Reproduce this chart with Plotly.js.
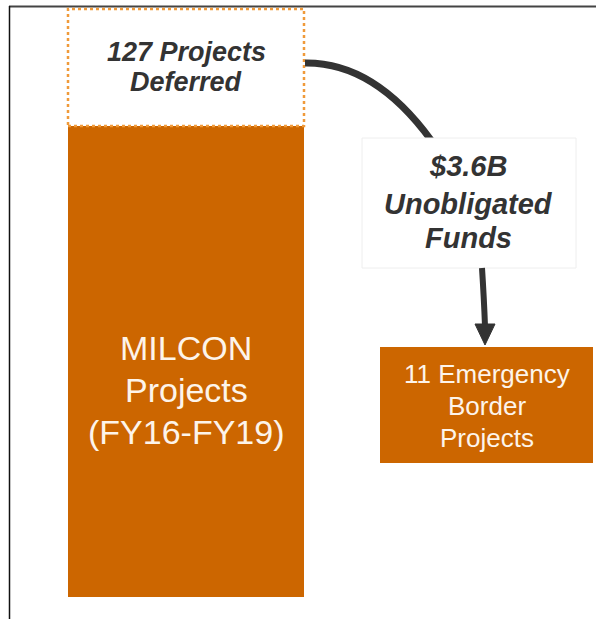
<!DOCTYPE html>
<html>
<head>
<meta charset="utf-8">
<script src="https://cdn.plot.ly/plotly-3.0.1.min.js"></script>
<style>html,body{margin:0;padding:0;background:#fff;}#chart{width:596px;height:619px;}</style>
</head>
<body>
<div id="chart"></div>
<script>
// ---- data ----
const categories = ["MILCON Projects (FY16-FY19)", "127 Projects Deferred", "11 Emergency Border Projects"];
const barLabelLines = [["MILCON", "Projects", "(FY16-FY19)"], ["127 Projects", "Deferred"], ["11 Emergency", "Border", "Projects"]];
const barValues = [471, 117, 116];
const flowLabelLines = ["$3.6B", "Unobligated", "Funds"];

// ---- layout constants (positions / styles) ----
const W = 596, H = 619;
const barCenters = [186, 186, 486.5];
const barWidths = [236, 236, 213];
const barBases = [22, 22 + barValues[0], 156];
const ORANGE = "#CC6600";
const barColors = [ORANGE, "#ffffff", ORANGE];
const FONT = "Liberation Sans, Arial, sans-serif";

const trace = {
  type: "bar",
  x: barCenters,
  y: barValues,
  base: barBases,
  width: barWidths,
  text: categories,
  textposition: "none",
  hoverinfo: "skip",
  marker: {color: barColors, line: {width: 0}}
};

const i = 1;
const shapes = [
  // frame
  {type: "line", xref: "paper", yref: "paper", x0: 9/W, x1: 1, y0: 1 - 6.5/H, y1: 1 - 6.5/H, line: {color: "#444", width: 2}},
  {type: "line", xref: "paper", yref: "paper", x0: 9.5/W, x1: 9.5/W, y0: 0, y1: 1 - 6/H, line: {color: "#111", width: 1.5}},
  // dashed outline of deferred segment
  {type: "rect", x0: barCenters[i] - barWidths[i]/2, x1: barCenters[i] + barWidths[i]/2,
   y0: barBases[i], y1: barBases[i] + barValues[i], line: {color: "#F09A3A", width: 2.5, dash: "dot"}},
  // curved arrow from deferred to funds
  {type: "path", path: "M 305 556 Q 374 557 431 479", line: {color: "#333", width: 7}},
  // funds box
  {type: "rect", x0: 362, x1: 576, y0: 351, y1: 481, fillcolor: "#ffffff", line: {color: "#eeeeee", width: 1}},
  // down arrow
  {type: "path", path: "M 482 351 Q 484 320 485 293", line: {color: "#333", width: 6}},
  {type: "path", path: "M 475 295 L 495 295 L 485 274 Z", fillcolor: "#333", line: {color: "#333", width: 1}}
];

// per-line text placement (pixel rows of line centres)
const labelRows = [[349, 391, 433], [53, 83], [375, 407, 439]];
const labelSizes = [34, 27, 26];
const labelColors = ["#fdf4ea", "#333333", "#fdf4ea"];
const labelStyle = [false, true, false];
const flowRows = [167, 205, 239];
const flowX = 468;

const annotations = [];
function addLine(txt, x, py, size, color, bi) {
  annotations.push({x: x, y: H - py + 1, text: bi ? "<b><i>" + txt + "</i></b>" : txt,
    showarrow: false, xanchor: "center", yanchor: "middle",
    font: {family: FONT, size: size, color: color}});
}
barLabelLines.forEach((lines, k) => {
  lines.forEach((t, j) => addLine(t, barCenters[k], labelRows[k][j], labelSizes[k], labelColors[k], labelStyle[k]));
});
flowLabelLines.forEach((t, j) => addLine(t, flowX, flowRows[j], 29, "#333333", true));

const layout = {
  width: W, height: H,
  margin: {l: 0, r: 0, t: 0, b: 0},
  paper_bgcolor: "#ffffff", plot_bgcolor: "#ffffff",
  showlegend: false,
  barmode: "overlay",
  xaxis: {range: [0, W], visible: false, fixedrange: true},
  yaxis: {range: [0, H], visible: false, fixedrange: true},
  shapes: shapes,
  annotations: annotations
};

Plotly.newPlot("chart", [trace], layout, {displayModeBar: false, staticPlot: true});
</script>
</body>
</html>
